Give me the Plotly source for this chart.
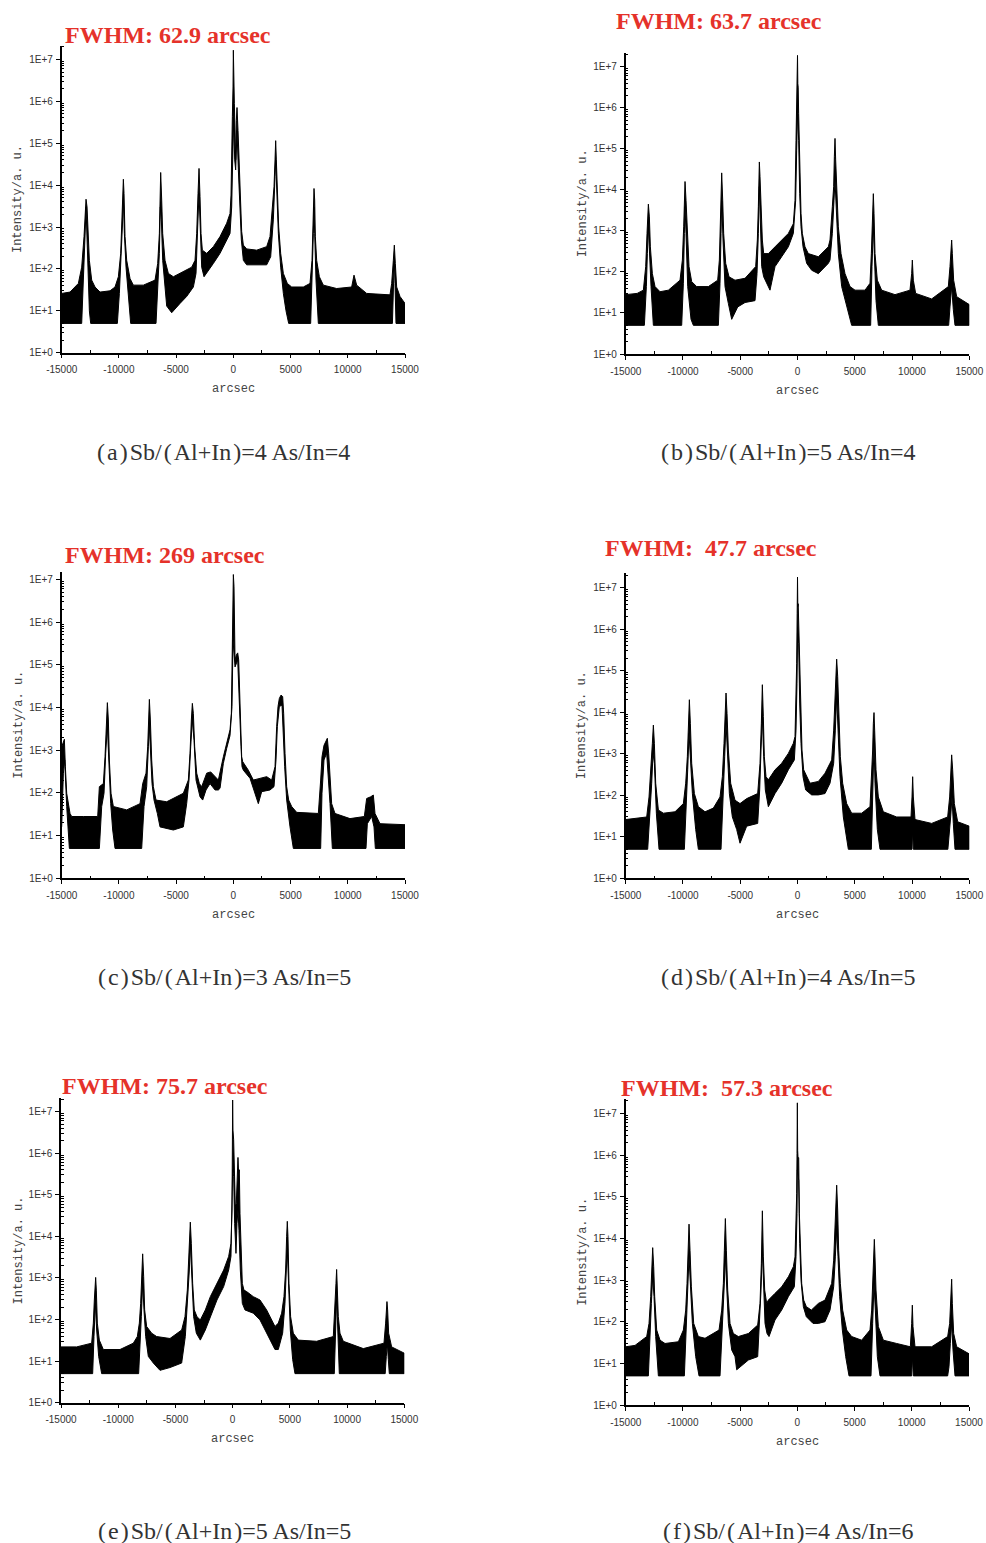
import plotly.graph_objects as go

W, H = 986, 1543

# ---------------- text ----------------
TITLES = ["FWHM: 62.9 arcsec", "FWHM: 63.7 arcsec", "FWHM: 269 arcsec",
          "FWHM:\u00a0 47.7 arcsec", "FWHM: 75.7 arcsec", "FWHM:\u00a0 57.3 arcsec"]
_t = "\u200a"
CAPTION_LABELS = ["a", "b", "c", "d", "e", "f"]
CAPTION_SB = [4, 5, 3, 4, 5, 4]
CAPTION_AS = [4, 4, 5, 5, 5, 6]
X_TITLE = "arcsec"
Y_TITLE = "Intensity/a. u."

X_TICKS = [-15000, -10000, -5000, 0, 5000, 10000, 15000]
X_TICK_TEXT = ["-15000", "-10000", "-5000", "0", "5000", "10000", "15000"]
Y_TICKS = [1, 10, 100, 1000, 1e4, 1e5, 1e6, 1e7]
Y_TICK_TEXT = ["1E+0", "1E+1", "1E+2", "1E+3", "1E+4", "1E+5", "1E+6", "1E+7"]

# ---------------- data: upper / lower envelope of each rocking curve (arcsec, intensity) ----------------
A_UPPER = [(-15000, 26), (-14272, 28), (-13544, 45), (-13252, 110), (-13049, 590), (-12932, 3000), (-12874, 4600),
           (-12786, 3000), (-12699, 490), (-12583, 160), (-12379, 54), (-12087, 37), (-11650, 28), (-10777, 30),
           (-10340, 37), (-10049, 65), (-9845, 235), (-9728, 1480), (-9670, 5300), (-9612, 13800), (-9553, 6300),
           (-9466, 590), (-9320, 160), (-9029, 59), (-8738, 41), (-7864, 41), (-6845, 54), (-6612, 135), (-6466, 700),
           (-6408, 4400), (-6350, 20000), (-6262, 4400), (-6175, 700), (-5971, 160), (-5680, 78), (-5243, 65),
           (-4369, 85), (-3641, 110), (-3350, 160), (-3204, 700), (-3087, 6300), (-3000, 25000), (-2913, 5300),
           (-2825, 700), (-2709, 280), (-2330, 235), (-1748, 340), (-1165, 590), (-583, 1230), (-291, 2100),
           (-204, 5800), (-146, 23000), (-87, 430000), (-29, 2200000), (0, 16600000), (87, 890000), (146, 83000),
           (204, 40000), (262, 350000), (320, 710000), (408, 200000), (495, 40000), (583, 5800), (728, 780),
           (874, 370), (1165, 300), (2039, 280), (2913, 340), (3204, 590), (3437, 3000), (3553, 9100), (3641, 40000),
           (3699, 115000), (3757, 40000), (3845, 6300), (3961, 1000), (4136, 235), (4369, 78), (4718, 45), (5097, 37),
           (6116, 37), (6699, 45), (6874, 160), (6961, 700), (7019, 4400), (7048, 8300), (7107, 4400), (7165, 590),
           (7282, 160), (7515, 65), (7864, 41), (9029, 34), (10340, 37), (10544, 71), (10777, 41), (11650, 26),
           (13689, 24), (13835, 45), (13981, 160), (14068, 370), (14155, 135), (14272, 37), (14563, 22), (15000, 15)]
A_LOWER = [(-15000, 5), (-13252, 5), (-13165, 15), (-13049, 160), (-12932, 1000), (-12874, 3000), (-12786, 700),
           (-12699, 78), (-12583, 10), (-12466, 5), (-10136, 5), (-9961, 26), (-9816, 135), (-9699, 1000),
           (-9612, 4400), (-9524, 700), (-9379, 110), (-9175, 22), (-8971, 5), (-6757, 5), (-6612, 37), (-6466, 235),
           (-6379, 3000), (-6291, 1480), (-6175, 160), (-5971, 37), (-5825, 13), (-5388, 9), (-4660, 15), (-4078, 22),
           (-3495, 37), (-3262, 78), (-3117, 1000), (-3000, 6300), (-2883, 700), (-2767, 110), (-2563, 65),
           (-1748, 135), (-1165, 235), (-583, 490), (-291, 700), (-146, 3000), (-58, 40000), (29, 350000),
           (117, 40000), (204, 23000), (320, 200000), (437, 23000), (553, 3000), (699, 490), (874, 160), (1165, 125),
           (2913, 125), (3262, 195), (3495, 1480), (3641, 15800), (3699, 40000), (3786, 13200), (3932, 700),
           (4136, 110), (4369, 26), (4602, 10), (4835, 5), (6757, 5), (6903, 54), (6990, 700), (7048, 3000),
           (7107, 700), (7223, 54), (7427, 5), (13900, 5), (14010, 54), (14068, 160), (14126, 45), (14213, 5),
           (15000, 5)]

B_UPPER = [(-15000, 28), (-14000, 30), (-13458, 36), (-13254, 135), (-13138, 870), (-13079, 2700), (-13021, 4500),
           (-12934, 2200), (-12847, 410), (-12672, 91), (-12439, 44), (-12003, 33), (-11275, 36), (-10257, 63),
           (-10053, 195), (-9937, 1260), (-9878, 6800), (-9820, 16000), (-9733, 5600), (-9646, 1260), (-9471, 135),
           (-9238, 58), (-8802, 44), (-7783, 44), (-6968, 63), (-6823, 195), (-6736, 1260), (-6677, 8100),
           (-6619, 26000), (-6532, 5600), (-6445, 870), (-6270, 162), (-5979, 76), (-5455, 63), (-4582, 70),
           (-3651, 135), (-3506, 600), (-3418, 3900), (-3360, 25000), (-3331, 48000), (-3273, 21000), (-3185, 2700),
           (-3069, 600), (-2953, 280), (-2545, 280), (-1963, 410), (-1381, 600), (-799, 870), (-363, 1500),
           (-217, 5600), (-130, 160000), (-72, 870000), (-30, 3900000), (0, 19000000), (30, 3900000), (60, 3200000),
           (100, 720000), (161, 160000), (219, 12000), (306, 2700), (423, 870), (656, 410), (946, 280), (1820, 235),
           (2693, 410), (2838, 600), (3042, 3900), (3158, 12000), (3217, 65000), (3275, 180000), (3333, 54000),
           (3420, 8100), (3566, 1260), (3799, 280), (4148, 91), (4584, 44), (5021, 36), (5894, 36), (6330, 53),
           (6446, 280), (6533, 2200), (6621, 8100), (6680, 2700), (6767, 280), (6971, 63), (7349, 36), (8513, 28),
           (9822, 36), (9968, 91), (10026, 195), (10113, 63), (10317, 30), (11714, 22), (13169, 44), (13314, 135),
           (13402, 340), (13460, 600), (13518, 280), (13634, 63), (13896, 25), (15000, 16)]
B_LOWER = [(-15000, 5), (-13370, 5), (-13196, 44), (-13109, 280), (-13021, 1260), (-12934, 410), (-12788, 44),
           (-12585, 5), (-10111, 5), (-9966, 53), (-9878, 870), (-9820, 3900), (-9733, 870), (-9587, 44), (-9296, 7),
           (-9093, 5), (-6910, 5), (-6765, 53), (-6677, 870), (-6619, 5600), (-6503, 600), (-6329, 44), (-6037, 17),
           (-5746, 7), (-5222, 14), (-4582, 18), (-3709, 20), (-3535, 91), (-3418, 870), (-3331, 12000),
           (-3244, 1260), (-3127, 135), (-2953, 76), (-2691, 53), (-2400, 36), (-1963, 135), (-1381, 235),
           (-799, 410), (-363, 870), (-159, 5600), (-72, 93000), (0, 720000), (103, 160000), (190, 8100),
           (306, 1260), (481, 410), (801, 162), (1238, 110), (1820, 91), (2693, 162), (2838, 195), (3042, 870),
           (3188, 5600), (3275, 17000), (3391, 2700), (3566, 280), (3857, 44), (4293, 14), (4730, 5), (6388, 5),
           (6504, 135), (6621, 1260), (6709, 280), (6854, 20), (7058, 5), (13200, 5), (13314, 14), (13460, 44),
           (13605, 12), (13751, 5), (15000, 5)]

C_UPPER = [(-15000, 1200), (-14854, 1700), (-14767, 1800), (-14680, 410), (-14563, 98), (-14272, 33), (-14126, 28),
           (-13107, 28), (-11854, 28), (-11709, 140), (-11359, 165), (-11214, 700), (-11097, 5100), (-11010, 13000),
           (-10922, 5100), (-10835, 590), (-10689, 98), (-10485, 48), (-9320, 40), (-8155, 56), (-7922, 165),
           (-7631, 290), (-7485, 1200), (-7398, 7200), (-7340, 15500), (-7252, 5100), (-7136, 590), (-6990, 140),
           (-6757, 68), (-5825, 62), (-4369, 98), (-3932, 200), (-3786, 850), (-3670, 5100), (-3583, 12500),
           (-3495, 7200), (-3379, 1200), (-3204, 290), (-2971, 165), (-2767, 140), (-2330, 290), (-1981, 310),
           (-1602, 240), (-1311, 200), (-874, 700), (-583, 1450), (-291, 3000), (-175, 7200), (-117, 63000),
           (0, 13000000), (58, 6700000), (117, 380000), (146, 130000), (262, 170000), (380, 190000), (466, 130000),
           (553, 21000), (641, 3600), (728, 700), (815, 540), (1311, 340), (1748, 200), (2330, 220), (2913, 240),
           (3349, 200), (3641, 410), (3786, 3600), (3903, 10500), (4019, 16300), (4165, 19500), (4311, 18000),
           (4398, 7200), (4515, 850), (4660, 140), (4835, 68), (5097, 48), (5534, 35), (7427, 33), (7631, 200),
           (7747, 700), (7922, 1300), (8097, 1700), (8213, 1900), (8330, 850), (8447, 200), (8592, 56), (8883, 33),
           (10194, 25), (11447, 28), (11650, 74), (12000, 81), (12233, 89), (12379, 33), (12816, 19), (15000, 18)]
C_LOWER = [(-15000, 16), (-14854, 290), (-14738, 590), (-14563, 48), (-14330, 5), (-11709, 5), (-11505, 48),
           (-11301, 98), (-11155, 850), (-11010, 3600), (-10893, 850), (-10718, 56), (-10544, 13.5), (-10340, 5),
           (-8010, 5), (-7806, 48), (-7573, 140), (-7427, 1200), (-7340, 3600), (-7252, 1200), (-7107, 165),
           (-6932, 68), (-6641, 33), (-6408, 16), (-5243, 13.5), (-4369, 16), (-4078, 56), (-3874, 200),
           (-3728, 1200), (-3583, 5100), (-3437, 1700), (-3262, 200), (-2913, 81), (-2680, 68), (-2388, 117),
           (-2039, 165), (-1602, 117), (-1311, 117), (-1165, 128), (-874, 490), (-583, 1100), (-291, 2200),
           (-117, 10500), (-30, 380000), (60, 220000), (146, 89000), (380, 130000), (495, 44000), (583, 7200),
           (670, 1200), (757, 410), (874, 340), (1456, 220), (1893, 98), (2184, 56), (2476, 107), (3204, 117),
           (3553, 140), (3728, 590), (3845, 3600), (4019, 10500), (4252, 11400), (4369, 3600), (4485, 410),
           (4660, 68), (4951, 16), (5243, 5), (7631, 5), (7747, 98), (7922, 590), (8155, 850), (8301, 290),
           (8447, 56), (8650, 5), (11592, 5), (11709, 19), (12087, 28), (12292, 16), (12408, 5), (15000, 5)]

D_UPPER = [(-15000, 26), (-14185, 28), (-13167, 30), (-12963, 91), (-12788, 410), (-12672, 1780), (-12585, 4900),
           (-12497, 1780), (-12381, 195), (-12148, 44), (-11712, 37), (-10693, 40), (-9966, 63), (-9762, 195),
           (-9617, 850), (-9529, 5400), (-9442, 20000), (-9355, 5400), (-9238, 590), (-9005, 110), (-8656, 53),
           (-8074, 40), (-7347, 49), (-6765, 91), (-6561, 280), (-6416, 1780), (-6329, 9400), (-6241, 29000),
           (-6154, 9400), (-6037, 1230), (-5834, 195), (-5455, 76), (-5019, 63), (-4437, 83), (-3476, 110),
           (-3273, 590), (-3156, 5400), (-3069, 46000), (-2983, 7800), (-2896, 850), (-2750, 280), (-2545, 235),
           (-1963, 410), (-1381, 590), (-799, 1020), (-363, 1780), (-217, 2600), (-130, 24000), (-72, 150000),
           (-30, 2400000), (0, 18000000), (30, 3500000), (60, 4100000), (120, 960000), (190, 87000), (277, 7800),
           (394, 1230), (539, 410), (801, 280), (1092, 195), (1820, 215), (2402, 340), (2838, 590), (2984, 710),
           (3158, 3700), (3275, 16600), (3362, 105000), (3420, 190000), (3508, 73000), (3595, 7800), (3740, 850),
           (3944, 195), (4293, 63), (4730, 37), (5603, 37), (6330, 53), (6446, 195), (6562, 1230), (6621, 5400),
           (6680, 9800), (6738, 3700), (6854, 410), (7058, 91), (7494, 40), (8658, 30), (9910, 30), (9997, 91),
           (10055, 280), (10113, 91), (10259, 26), (11714, 21), (13111, 30), (13285, 91), (13402, 410),
           (13460, 940), (13547, 410), (13693, 63), (13984, 23), (15000, 18)]
D_LOWER = [(-15000, 5), (-13079, 5), (-12876, 37), (-12730, 195), (-12614, 1020), (-12497, 590), (-12323, 37),
           (-12090, 5), (-9878, 5), (-9704, 63), (-9587, 410), (-9471, 3100), (-9355, 1230), (-9180, 110),
           (-8889, 15), (-8656, 5), (-6677, 5), (-6503, 63), (-6357, 850), (-6241, 5400), (-6125, 1230), (-5950, 110),
           (-5688, 30), (-5310, 15), (-5019, 7), (-4437, 18), (-3476, 21), (-3302, 134), (-3185, 1230), (-3069, 7800),
           (-2953, 850), (-2808, 134), (-2545, 53), (-1963, 110), (-1381, 195), (-799, 410), (-275, 710),
           (-130, 3700), (-43, 50000), (0, 550000), (100, 460000), (190, 16600), (306, 1780), (481, 280), (714, 134),
           (1238, 102), (1820, 102), (2402, 110), (2838, 195), (3158, 590), (3304, 3700), (3420, 24000),
           (3537, 3700), (3711, 280), (4002, 30), (4439, 5), (6446, 5), (6562, 134), (6680, 1780), (6767, 195),
           (6971, 15), (7203, 5), (9997, 5), (10055, 15), (10113, 5), (13130, 5), (13227, 7), (13373, 30),
           (13489, 91), (13605, 21), (13751, 5), (15000, 5)]

E_UPPER = [(-15000, 22), (-13631, 22), (-12320, 27), (-12175, 82), (-12087, 295), (-12029, 740), (-11971, 1030),
           (-11913, 510), (-11825, 82), (-11650, 32), (-11301, 19), (-9845, 19), (-8680, 27), (-8330, 39),
           (-8155, 82), (-8039, 245), (-7951, 1080), (-7864, 3800), (-7777, 1080), (-7689, 170), (-7515, 68),
           (-7078, 47), (-6641, 39), (-5476, 35), (-4456, 56), (-4165, 117), (-3961, 510), (-3845, 3300),
           (-3757, 11800), (-3699, 22000), (-3612, 6800), (-3495, 740), (-3350, 170), (-3117, 117), (-2825, 98),
           (-2388, 170), (-1951, 355), (-1369, 740), (-786, 1550), (-349, 3300), (-146, 6800), (-58, 43000),
           (-25, 1000000), (0, 19000000), (29, 3600000), (87, 2100000), (146, 160000), (233, 52000), (320, 62000),
           (408, 400000), (466, 790000), (524, 330000), (583, 400000), (641, 36000), (728, 3300), (845, 740),
           (990, 510), (1223, 470), (1806, 355), (2388, 295), (2971, 170), (3408, 98), (3699, 68), (3990, 82),
           (4282, 142), (4485, 355), (4631, 1550), (4718, 9800), (4777, 23000), (4835, 9800), (4922, 740),
           (5068, 117), (5301, 47), (5738, 32), (7340, 30), (8796, 39), (8942, 170), (9029, 740), (9087, 1600),
           (9146, 740), (9233, 117), (9379, 47), (9670, 30), (11418, 20), (13224, 27), (13369, 82), (13427, 170),
           (13485, 270), (13544, 170), (13631, 47), (13893, 22), (15000, 15.5)]
E_LOWER = [(-15000, 5), (-12233, 5), (-12117, 39), (-12000, 245), (-11884, 56), (-11709, 13), (-11447, 5),
           (-8214, 5), (-8097, 27), (-7980, 117), (-7864, 740), (-7748, 170), (-7602, 39), (-7369, 13), (-6932, 9),
           (-6350, 6), (-5476, 7), (-4456, 9), (-4136, 39), (-3932, 245), (-3786, 1550), (-3699, 6800),
           (-3583, 1080), (-3408, 117), (-3175, 47), (-2825, 32), (-2388, 56), (-1951, 117), (-1369, 295),
           (-786, 620), (-349, 1550), (-146, 3300), (-58, 14000), (0, 400000), (87, 280000), (175, 20500),
           (291, 3900), (379, 20500), (466, 43000), (553, 14000), (670, 1550), (845, 245), (1078, 170), (1806, 142),
           (2388, 98), (2971, 47), (3408, 27), (3699, 19), (3990, 19), (4369, 47), (4573, 245), (4689, 1550),
           (4777, 4700), (4893, 740), (5039, 56), (5243, 11), (5447, 5), (8883, 5), (9000, 56), (9087, 355),
           (9175, 82), (9320, 5), (13330, 5), (13427, 13), (13515, 27), (13602, 11), (13689, 5), (15000, 5)]

F_UPPER = [(-15000, 25), (-14184, 27), (-13165, 44), (-12961, 91), (-12816, 400), (-12728, 1740), (-12641, 6000),
           (-12553, 2100), (-12466, 400), (-12291, 63), (-12000, 36), (-11563, 30), (-10398, 33), (-9961, 63),
           (-9757, 190), (-9641, 830), (-9553, 5200), (-9466, 22000), (-9379, 5200), (-9262, 690), (-9058, 91),
           (-8651, 44), (-8068, 40), (-6845, 63), (-6612, 190), (-6466, 830), (-6379, 5200), (-6291, 30000),
           (-6204, 5200), (-6087, 575), (-5884, 91), (-5592, 52), (-5155, 44), (-4282, 52), (-3466, 83),
           (-3262, 275), (-3146, 2500), (-3058, 46000), (-2971, 3600), (-2854, 575), (-2680, 275), (-2534, 330),
           (-1951, 480), (-1369, 690), (-786, 1200), (-349, 2100), (-204, 3600), (-117, 19000), (-58, 120000),
           (-29, 1100000), (0, 18000000), (29, 1300000), (58, 870000), (117, 870000), (175, 40000), (262, 3600),
           (379, 830), (553, 330), (786, 230), (1223, 190), (1835, 275), (2417, 330), (2854, 690), (2999, 830),
           (3174, 3000), (3291, 16000), (3378, 100000), (3437, 190000), (3524, 48000), (3611, 5200), (3757, 830),
           (3961, 190), (4311, 63), (4747, 44), (5621, 36), (6349, 63), (6495, 190), (6611, 1200), (6670, 3600),
           (6728, 9500), (6786, 3600), (6874, 575), (7078, 76), (7515, 36), (8680, 30), (9874, 25), (9990, 91),
           (10048, 250), (10107, 76), (10282, 25), (11738, 25), (13136, 44), (13311, 91), (13398, 275),
           (13485, 1050), (13544, 275), (13660, 52), (13922, 25), (15000, 17)]
F_LOWER = [(-15000, 5), (-13019, 5), (-12874, 44), (-12757, 275), (-12641, 1200), (-12524, 400), (-12379, 44),
           (-12146, 5), (-9874, 5), (-9699, 63), (-9583, 575), (-9466, 3600), (-9350, 1200), (-9175, 91),
           (-8884, 14.5), (-8592, 5), (-6757, 5), (-6553, 63), (-6408, 575), (-6291, 3600), (-6175, 830),
           (-6029, 91), (-5738, 21), (-5447, 14.5), (-5301, 7), (-4282, 12), (-3466, 14.5), (-3291, 91),
           (-3175, 575), (-3058, 5200), (-2942, 830), (-2825, 91), (-2650, 52), (-2476, 44), (-1951, 110),
           (-1369, 190), (-786, 400), (-262, 690), (-117, 3600), (-29, 40000), (0, 440000), (117, 250000),
           (204, 7600), (320, 1000), (524, 230), (786, 132), (1369, 91), (1835, 91), (2417, 100), (2854, 190),
           (3174, 690), (3320, 3600), (3437, 16000), (3553, 3600), (3699, 400), (3932, 63), (4223, 14.5),
           (4515, 5), (6437, 5), (6582, 91), (6699, 830), (6815, 190), (6990, 14.5), (7223, 5), (9990, 5),
           (10048, 14.5), (10136, 5), (13136, 5), (13252, 8.3), (13369, 30), (13485, 91), (13602, 21), (13777, 5),
           (15000, 5)]

CURVES = [(A_UPPER, A_LOWER), (B_UPPER, B_LOWER), (C_UPPER, C_LOWER),
          (D_UPPER, D_LOWER), (E_UPPER, E_LOWER), (F_UPPER, F_LOWER)]

# ---------------- layout (pixel boxes of each plot area) ----------------
PANELS = [
    dict(l=61.7, r=405.0, t=46.0, b=352.7, ytop=7.32, title=(63, 35), cap=(223.5, 452)),
    dict(l=625.7, r=969.3, t=53.3, b=354.0, ytop=7.33, title=(614, 21), cap=(788.5, 452)),
    dict(l=61.7, r=405.0, t=571.7, b=878.3, ytop=7.18, title=(63, 555), cap=(224, 977)),
    dict(l=625.7, r=969.3, t=572.7, b=878.3, ytop=7.36, title=(603, 548), cap=(788.5, 977)),
    dict(l=61.0, r=404.3, t=1098.3, b=1402.7, ytop=7.32, title=(60, 1086), cap=(224, 1531)),
    dict(l=625.7, r=969.0, t=1099.3, b=1405.0, ytop=7.34, title=(619, 1088), cap=(788.5, 1531)),
]

MINOR_Y = [m * 10 ** k for k in range(0, 8) for m in range(2, 10)]
TICK_FONT = dict(family="Liberation Sans", size=10, color="#333333")

fig = go.Figure()
layout = dict(width=W, height=H, margin=dict(l=0, r=0, t=0, b=0, autoexpand=False),
              paper_bgcolor="white", plot_bgcolor="white", showlegend=False, template="none")
annotations = []

for i, (p, (up, lo)) in enumerate(zip(PANELS, CURVES)):
    n = "" if i == 0 else str(i + 1)
    xs = [x for x, _ in up] + [x for x, _ in reversed(lo)]
    ys = [y for _, y in up] + [y for _, y in reversed(lo)]
    fig.add_trace(go.Scatter(x=xs, y=ys, mode="lines", fill="toself", fillcolor="black",
                             line=dict(color="black", width=1), xaxis="x" + n, yaxis="y" + n,
                             hoverinfo="skip"))
    layout["xaxis" + n] = dict(
        domain=[p["l"] / W, p["r"] / W], anchor="y" + n, range=[-15000, 15000], automargin=False,
        showline=True, linecolor="black", linewidth=1.5, showgrid=False, zeroline=False,
        tickmode="array", tickvals=X_TICKS, ticktext=X_TICK_TEXT, ticks="outside", ticklen=4,
        tickwidth=1, tickcolor="black", tickfont=TICK_FONT, ticklabelstandoff=3,
        minor=dict(tickmode="array", tickvals=[-12500, -7500, -2500, 2500, 7500, 12500],
                   ticks="inside", ticklen=3, tickwidth=1, tickcolor="black"))
    layout["yaxis" + n] = dict(
        domain=[1 - p["b"] / H, 1 - p["t"] / H], anchor="x" + n, type="log", range=[0, p["ytop"]],
        automargin=False,
        showline=True, linecolor="black", linewidth=1.5, showgrid=False, zeroline=False,
        tickmode="array", tickvals=Y_TICKS, ticktext=Y_TICK_TEXT, ticks="outside", ticklen=4,
        tickwidth=1, tickcolor="black", tickfont=TICK_FONT, ticklabelstandoff=1,
        minor=dict(tickmode="array", tickvals=MINOR_Y, ticks="inside", ticklen=3, tickwidth=1,
                   tickcolor="black"))
    tx, ty = p["title"]
    annotations.append(dict(text=TITLES[i], x=tx / W, y=1 - ty / H, xref="paper", yref="paper",
                            xanchor="left", yanchor="middle", showarrow=False,
                            font=dict(family="Liberation Serif", size=24, color="#e5322a", weight="bold")))
    cx, cy = p["cap"]
    cap = (f"({_t}{CAPTION_LABELS[i]}{_t}){_t}Sb/{_t}({_t}Al+In{_t})={CAPTION_SB[i]} "
           f"As/In={CAPTION_AS[i]}")
    annotations.append(dict(text=cap, x=cx / W, y=1 - cy / H, xref="paper", yref="paper",
                            xanchor="center", yanchor="middle", showarrow=False,
                            font=dict(family="Liberation Serif", size=24, color="#333333")))
    annotations.append(dict(text=X_TITLE, x=(p["l"] + p["r"]) / 2 / W, y=1 - (p["b"] + 36.6) / H,
                            xref="paper", yref="paper", xanchor="center", yanchor="middle",
                            showarrow=False, font=dict(family="Liberation Mono", size=12, color="#444444")))
    annotations.append(dict(text=Y_TITLE, x=(p["l"] - 43) / W, y=1 - (p["t"] + p["b"]) / 2 / H,
                            xref="paper", yref="paper", xanchor="center", yanchor="middle", textangle=-90,
                            showarrow=False, font=dict(family="Liberation Mono", size=12, color="#444444")))

layout["annotations"] = annotations
fig.update_layout(**layout)
# remove the default 8px page margin so the 986x1543 figure fills the window exactly
fig.write_html("out.html", config={"displayModeBar": False},
               post_script="document.body.style.margin='0';")
